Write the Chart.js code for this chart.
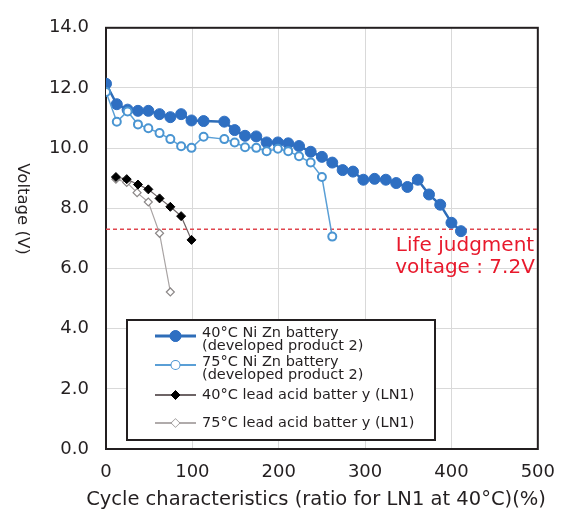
<!DOCTYPE html>
<html>
<head>
<meta charset="utf-8">
<script src="https://cdn.jsdelivr.net/npm/chart.js@4.4.1/dist/chart.umd.min.js"></script>
<style>
    html, body { margin: 0; padding: 0; background: #fff; }
    #wrap { width: 568px; height: 519px; position: relative; }
</style>
</head>
<body>
<div id="wrap"><canvas id="chart" width="568" height="519"></canvas></div>
<script>
// Values
const niZn40X = [0, 12.5, 25, 37, 49, 62, 74.5, 87, 99, 113, 137, 149, 161, 174, 186, 199, 211, 223.5, 237, 250, 262, 274, 286, 298, 311, 324, 336, 349, 361, 374, 387, 400, 411];
const niZn40V = [12.14, 11.46, 11.28, 11.24, 11.24, 11.13, 11.03, 11.13, 10.92, 10.90, 10.88, 10.60, 10.41, 10.39, 10.19, 10.19, 10.16, 10.07, 9.88, 9.71, 9.52, 9.27, 9.22, 8.95, 8.98, 8.95, 8.84, 8.71, 8.95, 8.46, 8.12, 7.52, 7.24];

const niZn75X = [0, 12.5, 25, 37, 49, 62, 74.5, 87, 99, 113, 137, 149, 161, 174, 186, 199, 211, 223.5, 237, 250, 262];
const niZn75V = [11.87, 10.88, 11.22, 10.79, 10.66, 10.50, 10.30, 10.06, 10.01, 10.38, 10.30, 10.19, 10.03, 10.01, 9.90, 9.98, 9.90, 9.73, 9.52, 9.04, 7.06];

const lead40X = [11.5, 24, 37, 49, 62, 74.5, 87, 99];
const lead40V = [9.04, 8.97, 8.79, 8.63, 8.33, 8.05, 7.74, 6.95];

const lead75X = [11.5, 24, 36, 49, 62, 74.5];
const lead75V = [8.97, 8.86, 8.52, 8.21, 7.17, 5.22];

const lifeX = [0, 500];
const lifeV = [7.3, 7.3];

const seriesLabels = [
    ['40°C Ni Zn battery', '(developed product 2)'],
    ['75°C Ni Zn battery', '(developed product 2)'],
    ['40°C lead acid batter y (LN1)'],
    ['75°C lead acid batter y (LN1)']
];
const lifeLabel = ['Life judgment', 'voltage : 7.2V'];
const xTitle = 'Cycle characteristics (ratio for LN1 at 40°C)(%)';
const yTitle = 'Voltage (V)';

const FONT = '"DejaVu Sans", "Noto Sans", sans-serif';
const TEXT = '#231f20';

const toPoints = (xs, ys) => xs.map((x, i) => ({ x, y: ys[i] }));

// Legend styles (same as datasets)
const legendStyles = [
    { line: '#2e6db8', lw: 3, style: 'circle', r: 5.5, fill: '#2e6fc2', stroke: '#2e6fc2', bw: 1 },
    { line: '#5a9fd6', lw: 2, style: 'circle', r: 4, fill: '#ffffff', stroke: '#4a95d2', bw: 2 },
    { line: '#6d6466', lw: 2, style: 'rectRot', r: 4.5, fill: '#000000', stroke: '#000000', bw: 1 },
    { line: '#b0abab', lw: 2, style: 'rectRot', r: 4, fill: '#ffffff', stroke: '#8c8888', bw: 1.2 }
];

const framePlugin = {
    id: 'frame',
    beforeDatasetsDraw(chart) {
        const { ctx, chartArea: a } = chart;
        ctx.save();
        ctx.strokeStyle = '#231f20';
        ctx.lineWidth = 2;
        ctx.strokeRect(a.left, a.top, a.right - a.left, a.bottom - a.top);
        ctx.restore();
    },
    afterDraw(chart) {
        const { ctx } = chart;
        ctx.save();
        // axis titles
        ctx.fillStyle = TEXT;
        ctx.font = `19.5px ${FONT}`;
        ctx.textAlign = 'center';
        ctx.textBaseline = 'middle';
        ctx.fillText(xTitle, 316, 500);
        ctx.save();
        ctx.translate(22, 209);
        ctx.rotate(Math.PI / 2);
        ctx.font = `16.5px ${FONT}`;
        ctx.fillText(yTitle, 0, 0);
        ctx.restore();

        // life judgment label
        ctx.fillStyle = '#e8192c';
        ctx.font = `20px ${FONT}`;
        ctx.fillText(lifeLabel[0], 465, 246);
        ctx.fillText(lifeLabel[1], 465, 268);

        // legend box
        const bx = 127, by = 320, bw = 308, bh = 120;
        ctx.fillStyle = '#fff';
        ctx.fillRect(bx, by, bw, bh);
        ctx.strokeStyle = '#231f20';
        ctx.lineWidth = 2;
        ctx.strokeRect(bx, by, bw, bh);

        const rowsY = [336, 365, 395, 423];
        ctx.font = `14.5px ${FONT}`;
        ctx.textAlign = 'left';
        seriesLabels.forEach((lines, i) => {
            const s = legendStyles[i];
            const y = rowsY[i];
            ctx.strokeStyle = s.line;
            ctx.lineWidth = s.lw;
            ctx.beginPath();
            ctx.moveTo(155, y);
            ctx.lineTo(196, y);
            ctx.stroke();
            ctx.fillStyle = s.fill;
            ctx.strokeStyle = s.stroke;
            ctx.lineWidth = s.bw;
            Chart.helpers.drawPoint(ctx, { pointStyle: s.style, radius: s.r, borderWidth: s.bw }, 175.5, y);
            ctx.fill();
            ctx.fillStyle = TEXT;
            if (lines.length === 2) {
                ctx.fillText(lines[0], 202, y - 3);
                ctx.fillText(lines[1], 202, y + 10);
            } else {
                ctx.fillText(lines[0], 202, y);
            }
        });
        ctx.restore();
    }
};

document.addEventListener('DOMContentLoaded', () => {
    const canvas = document.getElementById('chart');
    new Chart(canvas.getContext('2d'), {
        type: 'line',
        data: {
            datasets: [
                {
                    label: 'life',
                    data: toPoints(lifeX, lifeV),
                    borderColor: '#e0464f',
                    borderWidth: 1.5,
                    borderDash: [4, 3],
                    pointRadius: 0,
                    order: 5
                },
                {
                    label: seriesLabels[3].join(' '),
                    data: toPoints(lead75X, lead75V),
                    borderColor: '#a9a4a4',
                    borderWidth: 1.2,
                    pointStyle: 'rectRot',
                    pointRadius: 4,
                    pointBackgroundColor: '#ffffff',
                    pointBorderColor: '#8c8888',
                    pointBorderWidth: 1.2,
                    order: 4
                },
                {
                    label: seriesLabels[2].join(' '),
                    data: toPoints(lead40X, lead40V),
                    borderColor: '#6d6466',
                    borderWidth: 1.2,
                    pointStyle: 'rectRot',
                    pointRadius: 4.5,
                    pointBackgroundColor: '#000000',
                    pointBorderColor: '#000000',
                    pointBorderWidth: 1,
                    order: 3
                },
                {
                    label: seriesLabels[0].join(' '),
                    data: toPoints(niZn40X, niZn40V),
                    borderColor: '#2e6db8',
                    borderWidth: 2.5,
                    pointStyle: 'circle',
                    pointRadius: 5.5,
                    pointBackgroundColor: '#2e6fc2',
                    pointBorderColor: '#2e6fc2',
                    pointBorderWidth: 1,
                    order: 2
                },
                {
                    label: seriesLabels[1].join(' '),
                    data: toPoints(niZn75X, niZn75V),
                    borderColor: '#5a9fd6',
                    borderWidth: 1.5,
                    pointStyle: 'circle',
                    pointRadius: 4,
                    pointBackgroundColor: '#ffffff',
                    pointBorderColor: '#4a95d2',
                    pointBorderWidth: 2,
                    order: 1
                }
            ]
        },
        options: {
            responsive: false,
            animation: false,
            layout: { padding: { left: 0, right: 19, top: 18, bottom: 0 } },
            plugins: {
                legend: { display: false },
                tooltip: { enabled: false }
            },
            scales: {
                x: {
                    type: 'linear',
                    min: 0,
                    max: 500,
                    afterFit: (scale) => { scale.height = 70; },
                    ticks: {
                        stepSize: 100,
                        padding: 13,
                        color: TEXT,
                        font: { family: FONT, size: 18 },
                        maxRotation: 0
                    },
                    grid: { color: '#d9d9d9', lineWidth: 1, drawTicks: false },
                    border: { display: false }
                },
                y: {
                    min: 0,
                    max: 14,
                    afterFit: (scale) => { scale.width = 106; },
                    ticks: {
                        stepSize: 2,
                        padding: 17,
                        color: TEXT,
                        font: { family: FONT, size: 18 },
                        callback: v => v.toFixed(1)
                    },
                    grid: { color: '#d9d9d9', lineWidth: 1, drawTicks: false },
                    border: { display: false }
                }
            }
        },
        plugins: [framePlugin]
    });
});
</script>
</body>
</html>
